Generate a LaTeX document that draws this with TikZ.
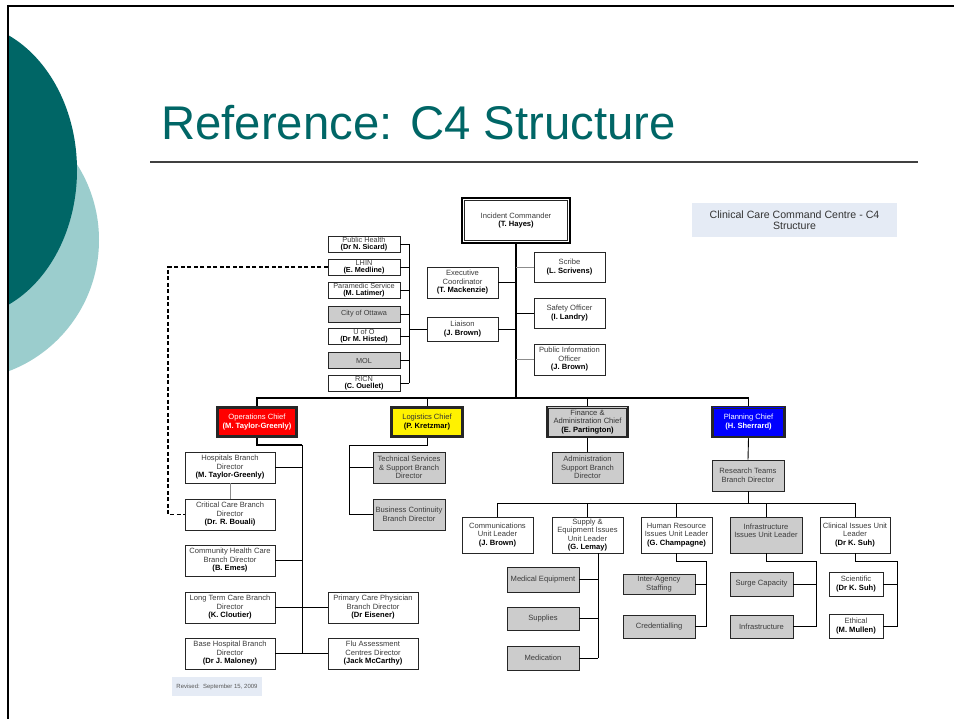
\documentclass[tikz,border=0pt]{standalone}
\usepackage{fontspec}
\setmainfont{Liberation Sans}
\definecolor{darkteal}{RGB}{0,102,102}
\definecolor{lightteal}{RGB}{155,205,205}
\definecolor{boxgray}{RGB}{204,204,204}
\definecolor{notebg}{RGB}{229,235,245}
\definecolor{txtgray}{RGB}{60,60,60}
\newcommand\bxfont{\fontsize{7.6}{8.5}\selectfont}
\newcommand\shfont{\fontsize{7.3}{7.0}\selectfont}
\newcommand\pname[1]{{\color{black}\bfseries #1}}
\tikzset{
  sz/.style 2 args={minimum width=#1, minimum height=#2},
  bx/.style={draw=black!85, line width=0.7pt, fill=white, inner sep=0pt, align=center, font=\bxfont, text=txtgray},
  gbx/.style={bx, fill=boxgray},
  shbx/.style={bx, font=\shfont, sz={72}{16}},
  chief/.style={bx, line width=1.5pt, draw=black!85},
  inner/.style={draw=black!85, line width=0.5pt},
  conn/.style={draw=black, line width=0.9pt},
  gconn/.style={draw=black!45, line width=0.9pt},
}
\begin{document}
\begin{tikzpicture}[x=1pt,y=-1pt]
\useasboundingbox (0,0) rectangle (954,719);
\fill[white] (0,0) rectangle (954,719);
% decoration
\begin{scope}
\clip (8,0) rectangle (954,719);
\fill[lightteal] (-40,240) ellipse [x radius=139pt, y radius=140pt];
\fill[darkteal] (-40,170) ellipse [x radius=117pt, y radius=148pt];
\end{scope}
\draw[line width=2pt] (7,6) -- (954,6);
\draw[line width=2pt] (8,5) -- (8,719);
\node[anchor=base west, inner sep=0pt, text=darkteal, font=\fontsize{47.3}{52}\selectfont] (title) at (161,140) {Reference: C4 Structure};
\draw[line width=1.8pt, black!75] (150,162) -- (918,162);

\node[bx, fill=notebg, draw=none, sz={205}{34}, font=\fontsize{10.6}{11.5}\selectfont, text=black!80] (note) at (794.5,220) {Clinical Care Command Centre - C4\\Structure};
\node[bx, fill=notebg, draw=none, sz={90}{19}, font=\fontsize{6}{7}\selectfont, text=black!65] (rev) at (217,686.5) {Revised:\ \ September 15, 2009};

% command staff
\node[bx, sz={108}{45}, line width=1.8pt, draw=black] (ic) at (516,220.5) {Incident Commander\\\pname{(T. Hayes)}};
\draw[inner, line width=0.7pt] ([shift={(3.2pt,3.2pt)}]ic.south west) rectangle ([shift={(-3.2pt,-3.2pt)}]ic.north east);
\node[bx, sz={71}{31}] (ex) at (462.5,282.5) {Executive\\Coordinator\\\pname{(T. Mackenzie)}};
\node[bx, sz={71}{24}] (lia) at (462.5,329) {Liaison\\\pname{(J. Brown)}};
\node[bx, sz={71}{30}] (scr) at (569.5,267) {Scribe\\\pname{(L. Scrivens)}};
\node[bx, sz={71}{30}] (saf) at (569.5,313) {Safety Officer\\\pname{(I. Landry)}};
\node[bx, sz={71}{31}] (pio) at (569.5,359.5) {Public Information\\Officer\\\pname{(J. Brown)}};

% stakeholders
\node[shbx] (ph) at (364,244) {Public Health\\\pname{(Dr N. Sicard)}};
\node[shbx] (lhin) at (364,267) {LHIN\\\pname{(E. Medline)}};
\node[shbx] (para) at (364,290.5) {Paramedic Service\\\pname{(M. Latimer)}};
\node[shbx, fill=boxgray] (ott) at (364,314) {City of Ottawa};
\node[shbx] (uo) at (364,336.5) {U of O\\\pname{(Dr M. Histed)}};
\node[shbx, fill=boxgray] (mol) at (364,360.5) {~\\MOL};
\node[shbx] (ricn) at (364,383) {RICN\\\pname{(C. Ouellet)}};

% chiefs
\node[chief, fill=red, text=white, sz={80}{30}] (ops) at (257,422) {Operations Chief\\\pname{\color{white}(M. Taylor-Greenly)}};
\node[chief, fill=yellow, text=black!80, sz={72}{30}] (log) at (427,422) {Logistics Chief\\\pname{(P. Kretzmar)}};
\node[chief, fill=boxgray, text=black!80, sz={81}{31}] (fin) at (587.5,422) {Finance \&\\Administration Chief\\\pname{(E. Partington)}};
\node[chief, fill=blue, text=white, sz={73}{31}] (plan) at (748.5,422) {Planning Chief\\\pname{\color{white}(H. Sherrard)}};
\foreach \n in {ops,log,fin,plan}
  \draw[inner] ([shift={(2.4pt,2.4pt)}]\n.south west) rectangle ([shift={(-2.4pt,-2.4pt)}]\n.north east);

% operations
\node[bx, sz={90}{31}] (hb) at (230,467.5) {Hospitals Branch\\Director\\\pname{(M. Taylor-Greenly)}};
\node[bx, sz={90}{31}] (cc) at (230,514.5) {Critical Care Branch\\Director\\\pname{(Dr. R. Bouali)}};
\node[bx, sz={90}{31}] (ch) at (230,560.5) {Community Health Care\\Branch Director\\\pname{(B. Emes)}};
\node[bx, sz={90}{31}] (lt) at (230,607.5) {Long Term Care Branch\\Director\\\pname{(K. Cloutier)}};
\node[bx, sz={90}{31}] (bh) at (230,653.5) {Base Hospital Branch\\Director\\\pname{(Dr J. Maloney)}};
\node[bx, sz={90}{31}] (pc) at (373,607.5) {Primary Care Physician\\Branch Director\\\pname{(Dr Eisener)}};
\node[bx, sz={90}{31}] (fl) at (373,653.5) {Flu Assessment\\Centres Director\\\pname{(Jack McCarthy)}};

% logistics
\node[gbx, sz={72}{31}] (ts) at (409,467.5) {Technical Services\\\& Support Branch\\Director};
\node[gbx, sz={72}{31}] (bc) at (409,514.5) {Business Continuity\\Branch Director};

% finance
\node[gbx, sz={71}{31}] (adm) at (587.5,467.5) {Administration\\Support Branch\\Director};

% planning
\node[gbx, sz={72}{31}] (rt) at (748,475.5) {Research Teams\\Branch Director};
\node[bx, sz={71}{36}] (comm) at (497.5,535) {Communications\\Unit Leader\\\pname{(J. Brown)}};
\node[bx, sz={71}{36}] (sup) at (587.5,535) {Supply \&\\Equipment Issues\\Unit Leader\\\pname{(G. Lemay)}};
\node[bx, sz={71}{36}] (hr) at (676.5,535) {Human Resource\\Issues Unit Leader\\\pname{(G. Champagne)}};
\node[gbx, sz={72}{36}] (inf) at (766,535) {Infrastructure\\Issues Unit Leader\\~};
\node[bx, sz={70}{36}] (clin) at (855,535) {Clinical Issues Unit\\Leader\\\pname{(Dr K. Suh)}};

\node[gbx, sz={72}{25}] (me) at (543,579.5) {Medical Equipment};
\node[gbx, sz={72}{23}] (sp) at (543,618.5) {Supplies};
\node[gbx, sz={72}{24}] (md) at (543,658) {Medication};
\node[gbx, sz={72}{20}] (ia) at (659,584) {Inter-Agency\\Staffing};
\node[gbx, sz={72}{23}] (cr) at (659,626.5) {Credentialling};
\node[gbx, sz={63}{24}] (sc) at (761.5,584) {Surge Capacity};
\node[gbx, sz={63}{23}] (in2) at (761.5,626.5) {Infrastructure};
\node[bx, sz={54}{24}] (sci) at (856,584) {Scientific\\\pname{(Dr K. Suh)}};
\node[bx, sz={54}{24}] (eth) at (856,626) {Ethical\\\pname{(M. Mullen)}};

% coordinates
\coordinate (tb) at (516,398);
\coordinate (sb) at (409,0);
\coordinate (dl) at (168,0);
\coordinate (ov) at (302,445);
\coordinate (lv) at (349,445);
\coordinate (ub) at (748,503);
\coordinate (sv) at (598,0);
\coordinate (hv) at (706,561);
\coordinate (iv) at (816,561);
\coordinate (cv) at (897,561);

% command connectors
\draw[conn, line width=2pt] (ic.south) -- (tb);
\draw[conn] (ex.east) -- (ex.east -| tb);
\draw[conn] (lia.east) -- (lia.east -| tb);
\draw[gconn] (scr.west) -- (scr.west -| tb);
\draw[conn] (saf.west) -- (saf.west -| tb);
\draw[gconn] (pio.west) -- (pio.west -| tb);
\draw[conn] (lia.west) -- (lia.west -| sb);
\draw[conn] (ph.east -| sb) -- (ricn.east -| sb);
\foreach \n in {ph,lhin,para,ott,uo,mol,ricn} \draw[conn] (\n.east) -- (\n.east -| sb);
\draw[line width=1.2pt, dash pattern=on 4pt off 2.5pt] (lhin.west) -- (lhin.west -| dl) |- (cc.west);

% general staff bus
\draw[conn, line width=1.1pt] (ops.north) |- (plan.north |- tb) -- (plan.north);
\draw[conn] (log.north) -- (log.north |- tb);
\draw[conn] (fin.north) -- (fin.north |- tb);

% operations
\draw[conn, line width=1.4pt] (ops.south) |- (ov);
\draw[conn] (ov) -- (ov |- bh.east);
\draw[conn] (hb.east) -- (hb.east -| ov);
\draw[gconn] (hb.south) -- (cc.north);
\draw[conn] (ch.east) -- (ch.east -| ov);
\draw[conn] (lt.east) -- (pc.west);
\draw[conn] (bh.east) -- (fl.west);

% logistics
\draw[conn] (log.south) |- (lv) -- (lv |- bc.west) -- (bc.west);
\draw[conn] (lv |- ts.west) -- (ts.west);

% finance
\draw[conn] (fin.south) -- (adm.north);

% planning
\draw[conn] (plan.south) -- (rt.north);
\draw[conn] (rt.south) -- (ub);
\draw[conn] (comm.north) |- (clin.north |- ub) -- (clin.north);
\foreach \n in {sup,hr,inf} \draw[conn] (\n.north) -- (\n.north |- ub);

\draw[conn] (sup.south -| sv) -- (sv |- md.east);
\foreach \n in {me,sp,md} \draw[conn] (\n.east) -- (\n.east -| sv);

\draw[conn] (hr.south) |- (hv) -- (hv |- cr.east) -- (cr.east);
\draw[conn] (ia.east) -- (ia.east -| hv);

\draw[conn] (inf.south) |- (iv) -- (iv |- in2.east) -- (in2.east);
\draw[conn] (sc.east) -- (sc.east -| iv);

\draw[conn] (clin.south) |- (cv) -- (cv |- eth.east) -- (eth.east);
\draw[conn] (sci.east) -- (sci.east -| cv);
\end{tikzpicture}
\end{document}
